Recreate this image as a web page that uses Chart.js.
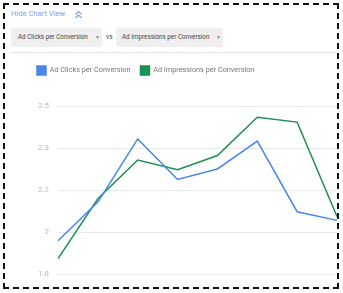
<!DOCTYPE html>
<html>
<head>
<meta charset="utf-8">
<script src="https://cdn.jsdelivr.net/npm/chart.js@4/dist/chart.umd.min.js"></script>
<style>
  body { margin: 0; background: #fff; font-family: Roboto, "Noto Sans", sans-serif; }
  #frame { position: absolute; left: 3px; top: 3px; width: 332px; height: 282px; border: 2px dashed #111; z-index: 5; pointer-events: none; }
  #hide { position: absolute; left: 11px; top: 9px; font-size: 7.6px; color: #7ba4ea; white-space: nowrap; }
  #chev { position: absolute; left: 74px; top: 10px; }
  .dd { position: absolute; top: 28px; height: 19px; background: #efefef; border-radius: 2px; font-size: 6.3px; color: #444; line-height: 19px; white-space: nowrap; }
  .dd .car { position: absolute; top: 0; font-size: 5px; color: #888; }
  #vs { position: absolute; left: 106px; top: 28px; line-height: 19px; font-size: 6.5px; color: #444; }
  #sep { position: absolute; left: 11px; top: 52px; width: 325px; height: 1px; background: #e4e4e4; }
  #wrap { position: absolute; left: 27px; top: 56px; width: 311px; height: 232px; }
</style>
</head>
<body>
<div id="frame"></div>
<div id="hide">Hide Chart View</div>
<svg id="chev" width="9" height="9" viewBox="0 0 9 9">
  <polyline points="1.5,4.5 4.5,1.5 7.5,4.5" fill="none" stroke="#7ba4ea" stroke-width="1.2"/>
  <polyline points="1.5,8 4.5,5 7.5,8" fill="none" stroke="#7ba4ea" stroke-width="1.2"/>
</svg>
<div class="dd" style="left:11px;width:91px;"><span style="margin-left:7px">Ad Clicks per Conversion</span><span class="car" style="left:84px">&#9660;</span></div>
<div id="vs">vs</div>
<div class="dd" style="left:116px;width:107px;"><span style="margin-left:6px">Ad Impressions per Conversion</span><span class="car" style="left:100px">&#9660;</span></div>
<div id="sep"></div>
<div id="wrap"><canvas id="myChart"></canvas></div>
<script>
const categories = ['P1', 'P2', 'P3', 'P4', 'P5', 'P6', 'P7', 'P8']
const clicksPerConversion = [1.939, 2.100, 2.363, 2.194, 2.238, 2.354, 2.060, 2.024]
const impressionsPerConversion = [1.865, 2.114, 2.275, 2.235, 2.294, 2.453, 2.433, 2.040]
const yTickValues = [1.8, 1.975, 2.15, 2.325, 2.5]
const yTickLabels = ['1.8', '2', '2.2', '2.3', '2.5']

const legendGap = {
  id: 'legendGap',
  beforeInit(chart) {
    const origFit = chart.legend.fit
    chart.legend.fit = function () {
      origFit.bind(chart.legend)()
      this.height = 50
    }
  }
}

var ctx = document.getElementById('myChart').getContext('2d');
var myChart = new Chart(ctx, {
  type: 'line',
  data: {
    labels: categories,
    datasets: [{
      label: 'Ad Clicks per Conversion',
      data: clicksPerConversion,
      borderColor: '#4a86e8',
      backgroundColor: '#4a86e8',
      borderWidth: 1.5,
      pointRadius: 0,
      tension: 0
    }, {
      label: 'Ad Impressions per Conversion',
      data: impressionsPerConversion,
      borderColor: '#1a9150',
      backgroundColor: '#1a9150',
      borderWidth: 1.5,
      pointRadius: 0,
      tension: 0
    }]
  },
  options: {
    responsive: true,
    maintainAspectRatio: false,
    animation: false,
    layout: { padding: { left: 0, right: 1, top: 0, bottom: 9 } },
    plugins: {
      legend: {
        position: 'top',
        align: 'start',
        labels: {
          boxWidth: 9,
          boxHeight: 9,
          padding: 10,
          color: '#777',
          font: { family: 'Roboto', size: 7.3 }
        }
      },
      tooltip: { enabled: false }
    },
    scales: {
      x: { display: false },
      y: {
        min: 1.8,
        max: 2.5,
        afterBuildTicks: (scale) => { scale.ticks = yTickValues.map(v => ({ value: v })) },
        afterFit: (scale) => { scale.width = 31 },
        ticks: {
          padding: 9,
          color: '#bbb',
          font: { family: 'Roboto', size: 8 },
          callback: (value, index) => yTickLabels[index]
        },
        grid: { color: '#e8e8e8', drawTicks: false },
        border: { display: false }
      }
    }
  },
  plugins: [legendGap]
});
</script>
</body>
</html>
